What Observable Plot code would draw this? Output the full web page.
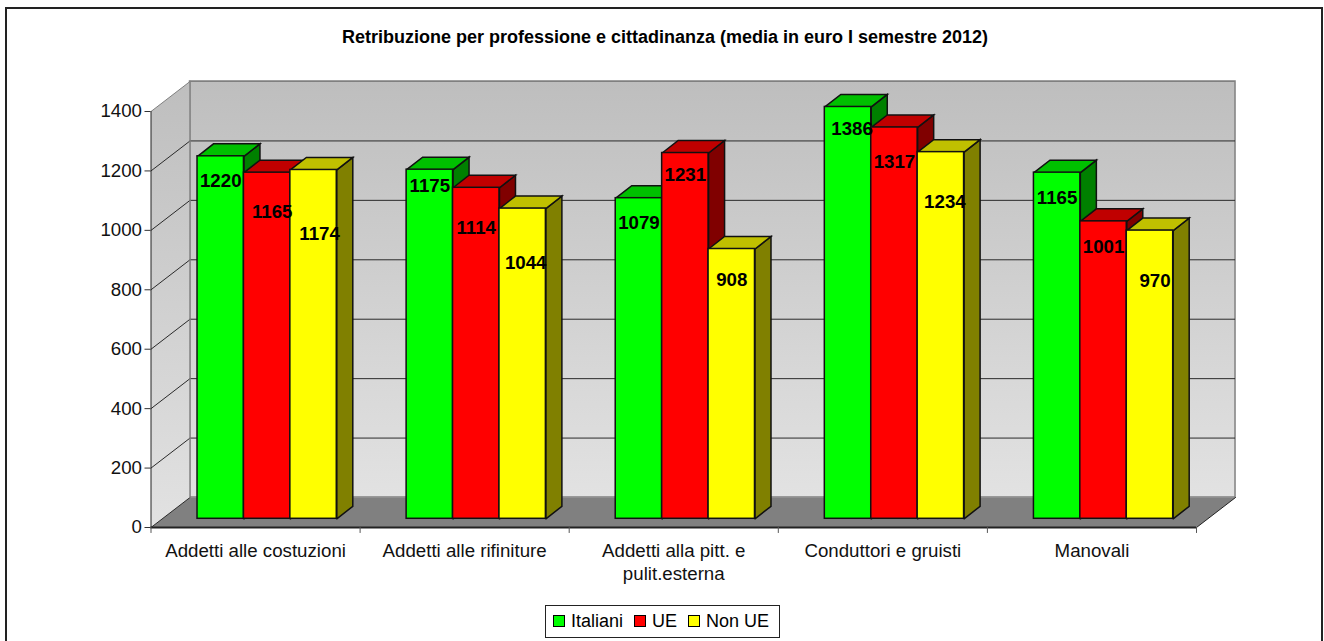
<!DOCTYPE html>
<html><head><meta charset="utf-8">
<script src="https://cdn.jsdelivr.net/npm/d3@7"></script>
<script src="https://cdn.jsdelivr.net/npm/@observablehq/plot@0.6"></script>
<style>
html,body{margin:0;padding:0;background:#fff;width:1324px;height:641px;overflow:hidden;font-family:"Liberation Sans",Arial,sans-serif;color:#000}
#page{position:relative;width:1324px;height:641px;overflow:hidden}
#frame{position:absolute;left:5px;top:7px;width:1314px;height:660px;border:2px solid #222}
#title{position:absolute;left:0;width:1330px;top:27px;text-align:center;font-weight:bold;font-size:18px;line-height:20px}
#legend{position:absolute;left:545px;top:605px;width:235px;height:33px;box-sizing:border-box;border:1px solid #222;background:#fff;display:flex;align-items:center;font-size:18px;padding-left:7px}
#legend i{display:inline-block;width:10px;height:10px;border:1px solid #000;margin-right:6px}
#legend span{margin-right:11px;white-space:nowrap}
#chart{position:absolute;left:0;top:0}
</style></head><body>
<div id="page">
<div id="frame"></div>
<div id="chart"></div>
<div id="title"></div>
<div id="legend"></div>
</div>
<script>
const chartTitle = "Retribuzione per professione e cittadinanza (media in euro I semestre 2012)";
const categories = ["Addetti alle costuzioni","Addetti alle rifiniture","Addetti alla pitt. e\npulit.esterna","Conduttori e gruisti","Manovali"];
const seriesNames = ["Italiani","UE","Non UE"];
const italiani = [1220,1175,1079,1386,1165];
const ue = [1165,1114,1231,1317,1001];
const nonUe = [1174,1044,908,1234,970];
const yTicks = [0,200,400,600,800,1000,1200,1400];

const seriesValues = [italiani, ue, nonUe];
const frontColors = ["#00ff00","#ff0000","#ffff00"];
const topColors = ["#00c000","#c00000","#c0c000"];
const sideColors = ["#008000","#800000","#808000"];

// label nudges away from the default spot, per series then category (screen pixels)
const labelDrop = [[25,16,25,22,25],[39,40,22,35,26],[64,54,31,50,50]];
const labelSlide = [[0,0,0,4,0],[5,0,0,0,0],[6,3,0,4,5]];

// layout, in pixels, converted to scale units
const pxX = 209, pxY = 416/1400;
const wallDX = 39/pxX, wallDY = 30/pxY;
const barStart = 46.5/pxX, barW = 46.4/pxX, barDX = 16/pxX, barDY = 12.5/pxY, barBase = 8.7/pxY;

const poly = (pts, fill, stroke, strokeWidth) => Plot.line(pts, {x:"0", y:"1", fill, stroke, strokeWidth, strokeLinejoin:"miter", strokeMiterlimit:4, curve:"linear"});

const defs = () => {
  const s = d3.create("svg:defs");
  for (const id of ["wallBack","wallSide"]) {
    const g = s.append("linearGradient").attr("id", id).attr("x1",0).attr("x2",0).attr("y1",0).attr("y2",1);
    g.append("stop").attr("offset","0%").attr("stop-color","#bebebe");
    g.append("stop").attr("offset","100%").attr("stop-color","#e2e2e2");
  }
  return s.node();
};

const marks = [defs];
const xMax = categories.length, yTop = 1400;
// walls and floor
marks.push(Plot.rect([0],{x1:wallDX,x2:xMax+wallDX,y1:wallDY,y2:yTop+wallDY,fill:"url(#wallBack)",stroke:"#808080",strokeWidth:1.5,inset:0}));
marks.push(poly([[0,0],[wallDX,wallDY],[wallDX,yTop+wallDY],[0,yTop],[0,0]],"url(#wallSide)","none",0));
marks.push(poly([[0,0],[wallDX,wallDY],[xMax+wallDX,wallDY],[xMax,0],[0,0]],"#808080","none",0));
// gridlines
for (const t of yTicks) {
  if (t > 0) {
    marks.push(Plot.ruleY([t+wallDY],{x1:wallDX,x2:xMax+wallDX,stroke:t===yTop?"#808080":"#2a2a2a",strokeWidth:1}));
  }
  marks.push(poly([[0,t],[wallDX,t+wallDY]],"none",t===yTop?"#808080":"#2a2a2a",1));
}
marks.push(poly([[wallDX,wallDY],[wallDX,yTop+wallDY]],"none","#808080",1.5));
marks.push(poly([[0,0],[0,yTop]],"none","#222",1));
marks.push(poly([[xMax,0],[xMax+wallDX,wallDY]],"none","#222",1));
// bars: painted left to right so each one overlaps its left neighbour
categories.forEach((c,i)=>{
  seriesValues.forEach((vals,j)=>{
    const v = vals[i];
    const x1 = i+barStart+j*barW, x2 = x1+barW, y1 = barBase, y2 = barBase+v;
    marks.push(poly([[x2,y1],[x2+barDX,y1+barDY],[x2+barDX,y2+barDY],[x2,y2],[x2,y1]],sideColors[j],"#111",1.5));
    marks.push(poly([[x1,y2],[x1+barDX,y2+barDY],[x2+barDX,y2+barDY],[x2,y2],[x1,y2]],topColors[j],"#111",1.5));
    marks.push(Plot.rect([v],{x1:()=>x1,x2:()=>x2,y1:()=>y1,y2:()=>y2,fill:frontColors[j],stroke:"#111",strokeWidth:1.5,inset:0}));
  });
});
// axes
marks.push(Plot.ruleY([0],{x1:0,x2:xMax,stroke:"#222",strokeWidth:2}));
marks.push(Plot.axisY({ticks:yTicks,tickSize:6,tickPadding:3,tickFormat:d=>String(d),label:null,fontSize:18.7,stroke:"#333",fill:"#111"}));
marks.push(Plot.ruleX(d3.range(xMax+1),{x:d=>d,y1:0,y2:-20,stroke:"#555",strokeWidth:1}));
marks.push(Plot.text(categories,{x:(d,i)=>i+0.5,y:0,dy:14,text:d=>d,lineAnchor:"top",lineHeight:1.2,textAnchor:"middle",fontSize:18.7,fill:"#111"}));
// data labels
const labelRows = [];
categories.forEach((c,i)=>seriesValues.forEach((vals,j)=>{
  labelRows.push({
    x:i+barStart+(j+0.5)*barW+labelSlide[j][i]/pxX,
    y:barBase+vals[i]-labelDrop[j][i]/pxY,
    t:String(vals[i])
  });
}));
marks.push(Plot.text(labelRows,{x:"x",y:"y",text:"t",fontSize:18.7,fontWeight:"bold",fill:"#000",textAnchor:"middle",lineAnchor:"middle"}));

const chart = Plot.plot({
  width:1324,height:641,
  marginLeft:150.5,marginRight:128,marginTop:111,marginBottom:114,
  x:{type:"linear",domain:[0,xMax],axis:null},
  y:{type:"linear",domain:[0,yTop],axis:null},
  style:{background:"transparent",fontFamily:"'Liberation Sans',Arial,sans-serif",overflow:"visible"},
  marks
});
document.getElementById("chart").append(chart);
document.getElementById("title").textContent = chartTitle;
const lg = d3.select("#legend");
seriesNames.forEach((n,j)=>{
  const s = lg.append("span");
  s.append("i").style("background",frontColors[j]);
  s.append("b").style("font-weight","normal").text(n);
});
</script>
</body></html>
